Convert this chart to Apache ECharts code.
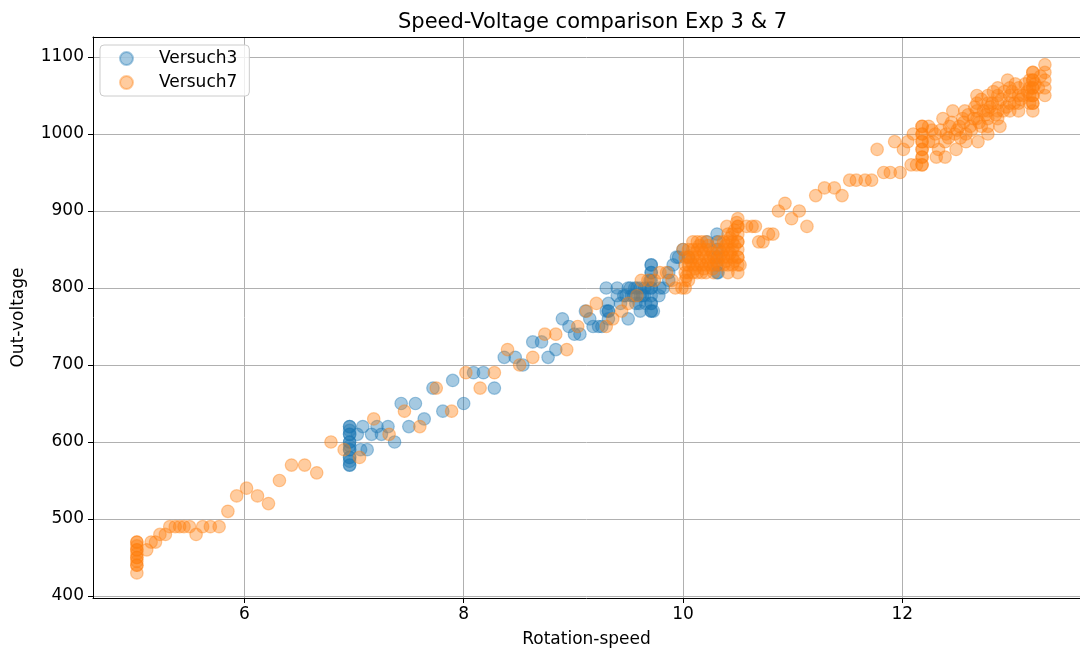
<!DOCTYPE html>
<html>
<head>
<meta charset="utf-8">
<script src="https://cdn.jsdelivr.net/npm/echarts@6/dist/echarts.min.js"></script>
<style>html,body{margin:0;padding:0;background:#fff;}#c{width:1080px;height:650px;}</style>
</head>
<body>
<div id="c"></div>
<script>
const titleText = 'Speed-Voltage comparison Exp 3 & 7';
const xName = 'Rotation-speed';
const yName = 'Out-voltage';
const xTicks = [6, 8, 10, 12];
const yTicks = [400, 500, 600, 700, 800, 900, 1000, 1100];
const seriesNames = ['Versuch3', 'Versuch7'];

// Versuch3 : [rotation speed, out voltage]
const versuch3 = [
  [6.96,570],[6.96,570],[6.96,580],[6.96,580],[6.96,590],[6.96,590],[6.96,600],[6.96,600],
  [6.96,610],[6.96,610],[6.96,620],[6.96,620],[6.96,575],[6.96,595],[6.96,615],
  [7.03,610],[7.06,590],[7.08,620],[7.12,590],[7.16,610],[7.21,620],[7.25,610],[7.31,620],
  [7.37,600],[7.43,650],[7.50,620],[7.56,650],[7.64,630],[7.72,670],[7.81,640],[7.90,680],
  [8.00,650],[8.09,690],[8.18,690],[8.28,670],[8.37,710],[8.47,710],[8.54,700],[8.63,730],
  [8.71,730],[8.77,710],[8.84,720],[8.90,760],[8.96,750],[9.01,740],[9.06,740],[9.11,770],
  [9.15,760],[9.18,750],[9.23,750],[9.26,750],[9.30,800],[9.30,770],[9.32,780],[9.32,770],
  [9.32,760],[9.32,770],
  [9.40,800],[9.40,790],[9.43,780],[9.46,790],[9.50,760],[9.52,800],[9.53,790],[9.56,800],
  [9.57,780],[9.61,770],[9.61,800],[9.61,790],[9.65,800],[9.65,790],[9.70,810],
  [9.48,790],[9.50,800],[9.55,790],[9.58,800],[9.60,780],[9.63,790],[9.66,780],[9.68,800],
  [9.71,770],[9.71,780],[9.71,790],[9.71,800],[9.71,810],[9.71,820],[9.71,830],
  [9.71,770],[9.71,780],[9.71,800],[9.71,820],[9.71,830],
  [9.73,770],[9.78,790],[9.79,800],[9.82,800],[9.87,810],[9.87,820],[9.91,830],[9.94,840],
  [9.96,840],[10.00,850],[10.05,840],[10.22,860],
  [10.31,820],[10.31,830],[10.31,840],[10.31,850],[10.31,860],[10.31,870],[10.32,820]
];

// Versuch7 : [rotation speed, out voltage]
const versuch7 = [
  [5.02,430],[5.02,440],[5.02,440],[5.02,450],[5.02,450],[5.02,460],[5.02,460],[5.02,470],[5.02,470],
  [5.02,445],[5.02,455],[5.02,465],
  [5.11,460],[5.15,470],[5.19,470],[5.23,480],[5.28,480],[5.32,490],[5.37,490],[5.41,490],
  [5.45,490],[5.50,490],[5.56,480],[5.62,490],[5.69,490],[5.77,490],[5.85,510],[5.93,530],
  [6.02,540],[6.12,530],[6.22,520],[6.32,550],[6.43,570],[6.55,570],[6.66,560],[6.79,600],
  [6.91,590],[7.05,580],[7.18,630],[7.32,610],[7.46,640],[7.60,620],[7.75,670],[7.89,640],
  [8.02,690],[8.15,670],[8.28,690],[8.40,720],[8.51,700],[8.63,710],[8.74,740],[8.84,740],
  [8.94,720],[9.04,750],[9.12,770],[9.21,780],[9.30,750],[9.36,760],[9.44,770],[9.50,780],
  [9.58,790],[9.62,810],[9.68,810],[9.74,810],[9.79,820],[9.85,820],[9.90,810],[9.93,800],
  [9.99,800],
  [10.02,800],[10.02,810],[10.02,820],[10.02,830],[10.02,840],[10.00,850],
  [10.05,810],[10.05,820],[10.05,830],[10.05,840],[10.05,850],
  [10.09,820],[10.09,830],[10.09,840],[10.09,850],[10.09,860],
  [10.13,820],[10.13,830],[10.13,840],[10.13,850],[10.13,860],
  [10.17,820],[10.17,830],[10.17,850],[10.17,860],
  [10.21,820],[10.21,830],[10.21,840],[10.21,850],[10.21,860],
  [10.25,830],[10.25,840],[10.25,850],
  [10.28,820],[10.28,830],[10.28,840],
  [10.33,830],[10.33,840],[10.33,850],[10.33,860],
  [10.37,830],[10.37,840],[10.37,850],[10.37,860],
  [10.41,820],[10.41,830],[10.41,840],[10.41,850],[10.41,860],[10.41,870],[10.40,880],
  [10.45,830],[10.45,840],[10.45,850],[10.45,860],[10.45,870],
  [10.50,820],[10.50,830],[10.50,840],[10.50,850],[10.50,860],[10.50,870],[10.50,880],[10.50,890],
  [10.50,840],[10.50,860],[10.50,880],[10.52,830],
  [10.03,815],[10.07,835],[10.11,825],[10.11,845],[10.15,835],[10.15,855],[10.19,825],[10.19,845],
  [10.23,835],[10.23,855],[10.27,825],[10.27,845],[10.31,835],[10.35,845],[10.39,835],[10.39,855],
  [10.43,845],[10.43,865],[10.47,835],[10.47,855],[10.47,875],[10.49,885],
  [10.58,880],[10.63,880],[10.66,880],[10.69,860],[10.73,860],[10.78,870],[10.82,870],
  [10.87,900],[10.93,910],[10.99,890],[11.06,900],[11.13,880],[11.21,920],[11.29,930],
  [11.38,930],[11.45,920],[11.52,940],[11.58,940],[11.66,940],[11.72,940],[11.77,980],
  [11.83,950],[11.89,950],[11.93,990],[11.98,950],[12.01,980],[12.05,990],[12.08,960],
  [12.10,1000],[12.13,960],
  [12.18,960],[12.18,970],[12.18,980],[12.18,990],[12.18,1000],[12.18,1010],
  [12.18,960],[12.18,970],[12.18,980],[12.18,990],[12.18,1000],[12.18,1010],
  [12.24,1010],[12.24,990],[12.28,990],[12.30,1000],[12.31,970],[12.33,980],[12.37,1020],
  [12.39,990],[12.39,970],[12.40,1000],[12.43,1010],[12.46,1030],[12.48,1000],[12.49,980],
  [12.52,1010],[12.55,1020],[12.57,1030],[12.58,990],[12.58,1000],[12.62,1010],[12.65,1020],
  [12.68,1020],[12.68,1030],[12.68,1040],[12.68,1050],[12.69,990],[12.72,1010],[12.74,1030],
  [12.78,1000],[12.78,1010],[12.78,1020],[12.78,1030],[12.78,1040],[12.78,1050],[12.82,1040],
  [12.87,1020],[12.87,1030],[12.87,1040],[12.87,1050],[12.87,1060],[12.89,1010],[12.92,1030],
  [12.96,1070],[12.98,1030],[12.98,1040],[12.98,1050],[12.98,1060],[13.02,1040],
  [13.06,1030],[13.06,1040],[13.06,1050],[13.06,1060],[13.10,1050],
  [13.16,1040],[13.16,1050],[13.16,1060],[13.16,1070],
  [13.19,1030],[13.19,1040],[13.19,1050],[13.19,1060],[13.19,1070],[13.19,1080],
  [13.19,1040],[13.19,1050],[13.19,1060],[13.19,1070],[13.19,1080],
  [13.24,1060],[13.30,1050],[13.30,1060],[13.30,1070],[13.30,1080],[13.30,1090],
  [12.27,1005],[12.35,1005],[12.42,995],[12.45,1015],[12.50,1005],[12.53,995],[12.56,1015],
  [12.60,1025],[12.63,1005],[12.66,1035],[12.70,1015],[12.72,1045],[12.76,1025],[12.80,1035],
  [12.83,1055],[12.85,1025],[12.90,1045],[12.93,1055],[12.95,1035],[13.00,1055],[13.03,1065],
  [13.08,1045],[13.12,1065],[13.14,1055],[13.21,1065],[13.26,1075]
];

const FONT = 'DejaVu Sans';
const chart = echarts.init(document.getElementById('c'), null, {renderer: 'canvas'});
const axisLbl = {color: '#000', fontSize: 17, fontFamily: FONT};
chart.setOption({
  animation: false,
  backgroundColor: '#fff',
  title: {
    text: titleText, left: 393, top: 7,
    textStyle: {fontFamily: FONT, fontSize: 21, fontWeight: 'normal', color: '#000'}
  },
  legend: {
    orient: 'vertical', left: 100, top: 45,
    data: seriesNames,
    icon: 'circle', itemWidth: 13, itemHeight: 13, itemGap: 7,
    padding: [5, 12, 5, 19],
    backgroundColor: 'rgba(255,255,255,0.8)', borderColor: '#cccccc', borderWidth: 1, borderRadius: 4,
    textStyle: {fontFamily: FONT, fontSize: 17, color: '#000', padding: [0, 0, 0, 21]}
  },
  grid: {left: 93, right: 0, top: 37, bottom: 52, containLabel: false, outerBoundsMode: 'none'},
  xAxis: [{
    type: 'value', min: 4.62, max: 13.62,
    name: xName, nameLocation: 'middle', nameGap: 33,
    nameTextStyle: {fontFamily: FONT, fontSize: 17, color: '#000'},
    axisLine: {show: true, lineStyle: {color: '#000', width: 1}},
    axisTick: {show: true, inside: false, length: 5, customValues: xTicks, lineStyle: {color: '#000'}},
    axisLabel: Object.assign({customValues: xTicks, margin: 8}, axisLbl),
    splitLine: {show: true, lineStyle: {color: '#b0b0b0', width: 1}}
  }, {
    type: 'value', position: 'top', min: 4.62, max: 13.62,
    axisLine: {show: true, lineStyle: {color: '#000', width: 1}},
    axisTick: {show: false}, axisLabel: {show: false}, splitLine: {show: false}
  }],
  yAxis: [{
    type: 'value', min: 397.4, max: 1126,
    name: yName, nameLocation: 'middle', nameGap: 66, nameRotate: 90,
    nameTextStyle: {fontFamily: FONT, fontSize: 17, color: '#000'},
    axisLine: {show: true, lineStyle: {color: '#000', width: 1}},
    axisTick: {show: true, inside: false, length: 5, customValues: yTicks, lineStyle: {color: '#000'}},
    axisLabel: Object.assign({customValues: yTicks, margin: 9, formatter: function (v) { return String(v); }}, axisLbl),
    splitLine: {show: true, lineStyle: {color: '#b0b0b0', width: 1}}
  }],
  series: [{
    name: seriesNames[0], type: 'scatter', data: versuch3, symbolSize: 12.5,
    itemStyle: {color: 'rgba(31,119,180,0.5)', borderColor: 'rgba(31,119,180,0.5)', borderWidth: 1.2}
  }, {
    name: seriesNames[1], type: 'scatter', data: versuch7, symbolSize: 12.5,
    itemStyle: {color: 'rgba(255,127,14,0.5)', borderColor: 'rgba(255,127,14,0.5)', borderWidth: 1.2}
  }]
});
</script>
</body>
</html>
